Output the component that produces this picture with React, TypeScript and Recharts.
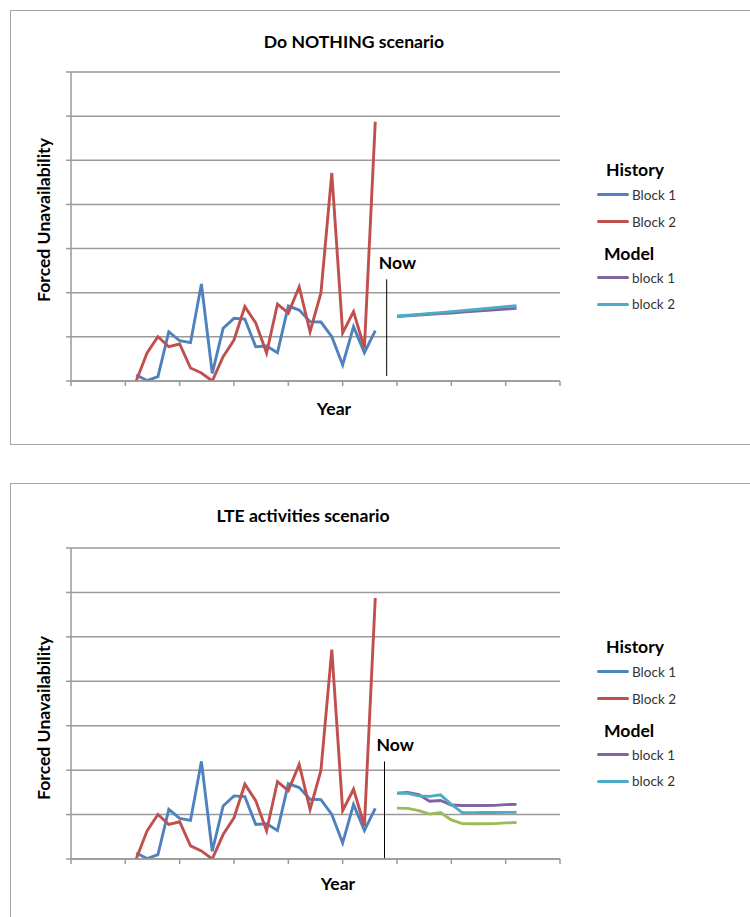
import React from 'react';
import { LineChart, Line, XAxis, YAxis, CartesianGrid, ReferenceLine } from 'recharts';

// ---- data ----
const historyX = [6, 7, 8, 9, 10, 11, 12, 13, 14, 15, 16, 17, 18, 19, 20, 21, 22, 23, 24, 25, 26, 27, 28];
const historyBlock1 = [0.68, 0.05, 0.49, 5.58, 4.56, 4.34, 10.99, 0.87, 5.97, 7.1, 7.02, 3.88, 3.96, 3.21, 8.49, 8.04, 6.72, 6.68, 5.02, 1.81, 6.15, 3.21, 5.7];
const historyBlock2 = [0, 3.17, 5.02, 3.88, 4.19, 1.47, 0.91, 0, 2.75, 4.64, 8.42, 6.57, 3.17, 8.72, 7.7, 10.65, 5.58, 9.97, 23.56, 5.44, 7.85, 3.74, 29.37];

const modelX = [30, 31, 32, 33, 34, 35, 36, 37, 38, 39, 40, 41];
const doNothingBlock1 = [7.3, 7.38, 7.47, 7.55, 7.63, 7.71, 7.8, 7.89, 7.97, 8.06, 8.15, 8.23];
const doNothingBlock2 = [7.36, 7.44, 7.54, 7.64, 7.75, 7.86, 7.97, 8.08, 8.19, 8.31, 8.42, 8.53];
const lteBlock1 = [7.41, 7.49, 7.25, 6.5, 6.58, 6.08, 6.02, 6.02, 6.02, 6.04, 6.12, 6.15];
const lteBlock2 = [7.41, 7.38, 7.1, 7.05, 7.22, 6.15, 5.22, 5.22, 5.23, 5.24, 5.25, 5.25];
const lteBlock3 = [5.72, 5.7, 5.45, 5.05, 5.22, 4.4, 3.98, 3.97, 3.97, 3.98, 4.06, 4.1];

const xTicks = [0, 5, 10, 15, 20, 25, 30, 35, 40, 45];
const yTicks = [0, 5, 10, 15, 20, 25, 30, 35];

const nowXTop = 29.05;
const nowXBottom = 28.85;

const COLORS = {
  b1: '#4F81BD',
  b2: '#C0504D',
  m1: '#8064A2',
  m2: '#4BACC6',
  m3: '#9BBB59',
};

const historyRows = historyX.map((x, i) => ({ x, b1: historyBlock1[i], b2: historyBlock2[i] }));
const doNothingRows = modelX.map((x, i) => ({ x, m1: doNothingBlock1[i], m2: doNothingBlock2[i] }));
const lteRows = modelX.map((x, i) => ({ x, m1: lteBlock1[i], m2: lteBlock2[i], m3: lteBlock3[i] }));

const FONT = 'Lato, "Open Sans", sans-serif';
const GRID = '#9a9a9a';
const BOLD_SIZE = 17.6;

type Series = { key: string; color: string };

function nowLabel(props: any) {
  const vb = props.viewBox || {};
  return (
    <text x={vb.x - 8} y={vb.y - 10} fontFamily={FONT} fontWeight={700} fontSize={BOLD_SIZE} fill="#000" textAnchor="start">
      Now
    </text>
  );
}

function ScenarioChart({ top, height, marginTop, marginBottom, rows, series, nowX, nowTop, nowBottom }: any) {
  return (
    <div style={{ position: 'absolute', left: 0, top, width: 750, height }}>
      <LineChart width={750} height={height} margin={{ top: marginTop, right: 190, bottom: marginBottom, left: 65 }}>
        <CartesianGrid vertical={false} stroke={GRID} strokeWidth={1.5} />
        <XAxis
          dataKey="x"
          type="number"
          domain={[0, 45]}
          ticks={xTicks}
          tickFormatter={() => ''}
          height={6}
          tickSize={5}
          stroke={GRID}
          strokeWidth={1.5}
          allowDataOverflow
        />
        <YAxis
          type="number"
          domain={[0, 35]}
          ticks={yTicks}
          tickFormatter={() => ''}
          width={6}
          tickSize={5}
          stroke={GRID}
          strokeWidth={1.5}
          allowDataOverflow
        />
        <Line data={historyRows} dataKey="b1" stroke={COLORS.b1} strokeWidth={2.9} dot={false} isAnimationActive={false} type="linear" />
        <Line data={historyRows} dataKey="b2" stroke={COLORS.b2} strokeWidth={2.9} dot={false} isAnimationActive={false} type="linear" />
        {series.map((s: Series) => (
          <Line key={s.key} data={rows} dataKey={s.key} stroke={s.color} strokeWidth={2.9} dot={false} isAnimationActive={false} type="linear" />
        ))}
        <ReferenceLine
          segment={[{ x: nowX, y: nowBottom }, { x: nowX, y: nowTop }]}
          stroke="#000"
          strokeWidth={1}
          label={nowLabel}
        />
      </LineChart>
    </div>
  );
}

function LegendBlock({ offset }: { offset: number }) {
  const head = (text: string, y: number, left: number) => (
    <div style={{ position: 'absolute', left, top: y + offset - 11, fontFamily: FONT, fontWeight: 700, fontSize: BOLD_SIZE, lineHeight: '22px', color: '#000', whiteSpace: 'nowrap' }}>
      {text}
    </div>
  );
  const item = (text: string, color: string, y: number) => (
    <div key={text + y} style={{ position: 'absolute', left: 597, top: y + offset - 9, height: 18, display: 'flex', alignItems: 'center', whiteSpace: 'nowrap' }}>
      <div style={{ width: 32, height: 3, background: color, borderRadius: 1.5 }} />
      <span style={{ fontFamily: FONT, fontSize: 13.5, color: '#333', marginLeft: 3 }}>{text}</span>
    </div>
  );
  return (
    <>
      {head('History', 170, 606)}
      {item('Block 1', COLORS.b1, 194.5)}
      {item('Block 2', COLORS.b2, 221.5)}
      {head('Model', 254, 604)}
      {item('block 1', COLORS.m1, 277.5)}
      {item('block 2', COLORS.m2, 304)}
    </>
  );
}

function Texts({ title, titleCx, titleCy, yLabelCy, yearCx, yearCy }: any) {
  const bold: React.CSSProperties = { position: 'absolute', fontFamily: FONT, fontWeight: 700, fontSize: BOLD_SIZE, color: '#000', whiteSpace: 'nowrap' };
  return (
    <>
      <div style={{ ...bold, left: titleCx, top: titleCy, transform: 'translate(-50%, -50%)' }}>{title}</div>
      <div style={{ ...bold, left: 43, top: yLabelCy, transform: 'translate(-50%, -50%) rotate(-90deg)' }}>Forced Unavailability</div>
      <div style={{ ...bold, left: yearCx, top: yearCy, transform: 'translate(-50%, -50%)' }}>Year</div>
    </>
  );
}

export default function App() {
  return (
    <div style={{ position: 'absolute', left: 0, top: 0, width: 750, height: 917, overflow: 'hidden', background: '#fff' }}>
      <div style={{ position: 'absolute', left: 10, top: 10, width: 760, height: 433, border: '1px solid #a6a6a6' }} />
      <div style={{ position: 'absolute', left: 10, top: 483, width: 760, height: 460, border: '1px solid #a6a6a6' }} />

      <ScenarioChart
        top={0}
        height={444}
        marginTop={72}
        marginBottom={57}
        rows={doNothingRows}
        series={[
          { key: 'm1', color: COLORS.m1 },
          { key: 'm2', color: COLORS.m2 },
        ]}
        nowX={nowXTop}
        nowTop={11.52}
        nowBottom={0.57}
      />
      <ScenarioChart
        top={476}
        height={440}
        marginTop={72}
        marginBottom={51}
        rows={lteRows}
        series={[
          { key: 'm1', color: COLORS.m1 },
          { key: 'm2', color: COLORS.m2 },
          { key: 'm3', color: COLORS.m3 },
        ]}
        nowX={nowXBottom}
        nowTop={10.98}
        nowBottom={0.05}
      />

      <Texts title="Do NOTHING scenario" titleCx={354} titleCy={41} yLabelCy={220} yearCx={334} yearCy={408} />
      <Texts title="LTE activities scenario" titleCx={303} titleCy={515} yLabelCy={718} yearCx={338} yearCy={883} />

      <LegendBlock offset={0} />
      <LegendBlock offset={477} />
    </div>
  );
}
